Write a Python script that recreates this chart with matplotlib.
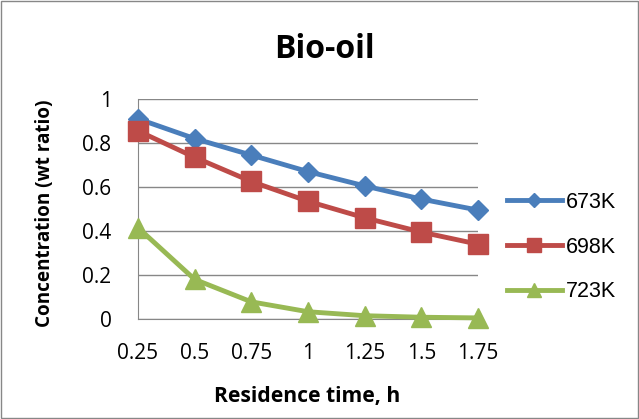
import matplotlib.pyplot as plt
from matplotlib.lines import Line2D

# data
time_labels = ["0.25", "0.5", "0.75", "1", "1.25", "1.5", "1.75"]
c673 = [0.91, 0.82, 0.745, 0.67, 0.605, 0.545, 0.495]
c698 = [0.855, 0.735, 0.625, 0.535, 0.46, 0.395, 0.34]
c723 = [0.415, 0.18, 0.078, 0.033, 0.015, 0.008, 0.005]
series_names = ["673K", "698K", "723K"]

colors = ["#4a7ebb", "#be4b48", "#98b954"]
markers = ["D", "s", "^"]
msizes = [10, 14, 14]

W, H = 639, 419
fig = plt.figure(figsize=(W/100, H/100), dpi=100)
ax = fig.add_axes([138/W, 1 - 319/H, 340/W, 220/H])

x = list(range(len(time_labels)))
for vals, col, m, ms, name in zip([c673, c698, c723], colors, markers, msizes, series_names):
    ax.plot(x, vals, color=col, lw=3.5, marker=m, ms=ms, label=name, clip_on=False, zorder=3)

ax.set_xlim(0, len(time_labels) - 1)
ax.set_ylim(0, 1)
ax.set_yticks([0, 0.2, 0.4, 0.6, 0.8, 1])
ax.set_yticklabels(["0", "0.2", "0.4", "0.6", "0.8", "1"])
ax.set_xticks(x)
ax.set_xticklabels(time_labels)
ax.tick_params(axis='y', length=0, labelsize=15, pad=19)
ax.tick_params(axis='x', length=0, labelsize=15, pad=17)
for lab in ax.get_xticklabels() + ax.get_yticklabels():
    lab.set_family("Open Sans")
ax.grid(axis='y', color='#878787', lw=1)
ax.set_axisbelow(True)
for s in ["top", "right"]:
    ax.spines[s].set_visible(False)
ax.spines["left"].set_color('#878787')
ax.spines["bottom"].set_color('#878787')

fig.text(307/W, 1 - 396/H, "Residence time, h", ha='center', va='center', fontsize=15.2,
         fontweight='bold', family="Open Sans")
fig.text(45/W, 1 - 213/H, "Concentration (wt ratio)", ha='center', va='center', rotation=90,
         fontsize=13.6, fontweight='bold', family="Open Sans")
fig.text(324/W, 1 - 50/H, "Bio-oil", ha='center', va='center', fontsize=23, fontweight='bold',
         family="Open Sans")

# legend markers are a bit smaller than the chart markers
handles = [Line2D([0], [0], color=c, lw=3.5, marker=m, ms=ms * 0.75)
           for c, m, ms in zip(colors, markers, msizes)]
fig.legend(handles, series_names, loc='center left', bbox_to_anchor=(507/W, 1 - 247/H),
           frameon=False, prop={'family': 'Liberation Sans', 'size': 15.5},
           handlelength=2.55, labelspacing=1.1, handletextpad=0.2,
           borderpad=0, borderaxespad=0)

# outer chart border
fig.patches.append(plt.Rectangle((0.002, 0.002), 0.996, 0.996, transform=fig.transFigure,
                                 fill=False, edgecolor='#878787', lw=1))

fig.savefig("out.png", dpi=100)
